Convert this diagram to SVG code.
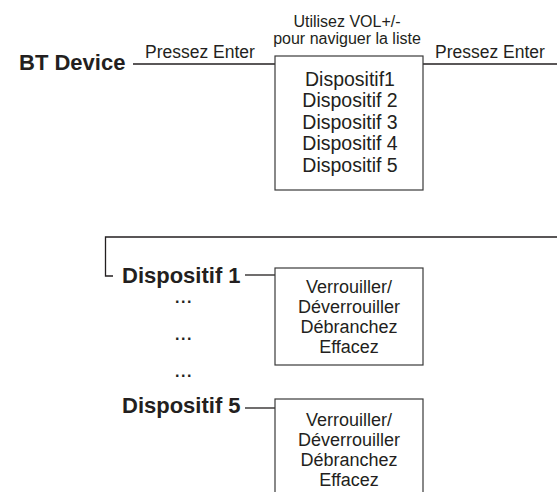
<svg xmlns="http://www.w3.org/2000/svg" width="557" height="492" viewBox="0 0 557 492">
<style>
text{font-family:"Liberation Sans",Arial,sans-serif;fill:#231f20}
.b{font-weight:bold;font-size:22px}
.r{font-size:18px}
.s{font-size:16px;text-anchor:middle}
.c{text-anchor:middle}
.d{font-weight:bold;font-size:16px;letter-spacing:1.5px;text-anchor:middle}
.ln{stroke:#231f20;stroke-width:1.3;fill:none}
.bx{stroke:#3a3a3a;stroke-width:1.2;fill:#fff}
</style>
<rect width="557" height="492" fill="#fff"/>
<g id="connectors">
<line class="ln" x1="133" y1="64" x2="275" y2="64"/>
<line class="ln" x1="423" y1="64" x2="557" y2="64"/>
<polyline class="ln" points="557,237 105.5,237 105.5,276 113,276"/>
<line class="ln" x1="245" y1="275" x2="275" y2="275"/>
<line class="ln" x1="245" y1="408" x2="275" y2="408"/>
</g>
<g id="bt-device"><text class="b" x="19" y="70">BT Device</text></g>
<g id="label-enter-1"><text class="r" x="145" y="58" style="font-size:17.5px">Pressez Enter</text></g>
<g id="label-vol">
<text class="s" x="347" y="27">Utilisez VOL+/-</text>
<text class="s" x="347" y="44">pour naviguer la liste</text>
</g>
<g id="label-enter-2"><text class="r" x="435" y="58" style="font-size:17.5px">Pressez Enter</text></g>
<g id="device-list">
<rect class="bx" x="275" y="56" width="148" height="134"/>
<text class="r c" x="350" y="86" style="font-size:19.5px">Dispositif1</text>
<text class="r c" x="350" y="107" style="font-size:19.5px">Dispositif 2</text>
<text class="r c" x="350" y="129" style="font-size:19.5px">Dispositif 3</text>
<text class="r c" x="350" y="150" style="font-size:19.5px">Dispositif 4</text>
<text class="r c" x="350" y="172" style="font-size:19.5px">Dispositif 5</text>
</g>
<g id="dispositif-1"><text class="b" x="122" y="283">Dispositif 1</text></g>
<g id="menu-1">
<rect class="bx" x="275" y="268" width="148" height="97"/>
<text class="r c" x="349" y="293">Verrouiller/</text>
<text class="r c" x="349" y="313">Déverrouiller</text>
<text class="r c" x="349" y="333">Débranchez</text>
<text class="r c" x="349" y="353">Effacez</text>
</g>
<g id="dots">
<text class="d" x="184" y="303">...</text>
<text class="d" x="184" y="340">...</text>
<text class="d" x="184" y="377">...</text>
</g>
<g id="dispositif-5"><text class="b" x="122" y="413">Dispositif 5</text></g>
<g id="menu-5">
<rect class="bx" x="275" y="399" width="148" height="110"/>
<text class="r c" x="349" y="426">Verrouiller/</text>
<text class="r c" x="349" y="446">Déverrouiller</text>
<text class="r c" x="349" y="466">Débranchez</text>
<text class="r c" x="349" y="486">Effacez</text>
</g>
</svg>
